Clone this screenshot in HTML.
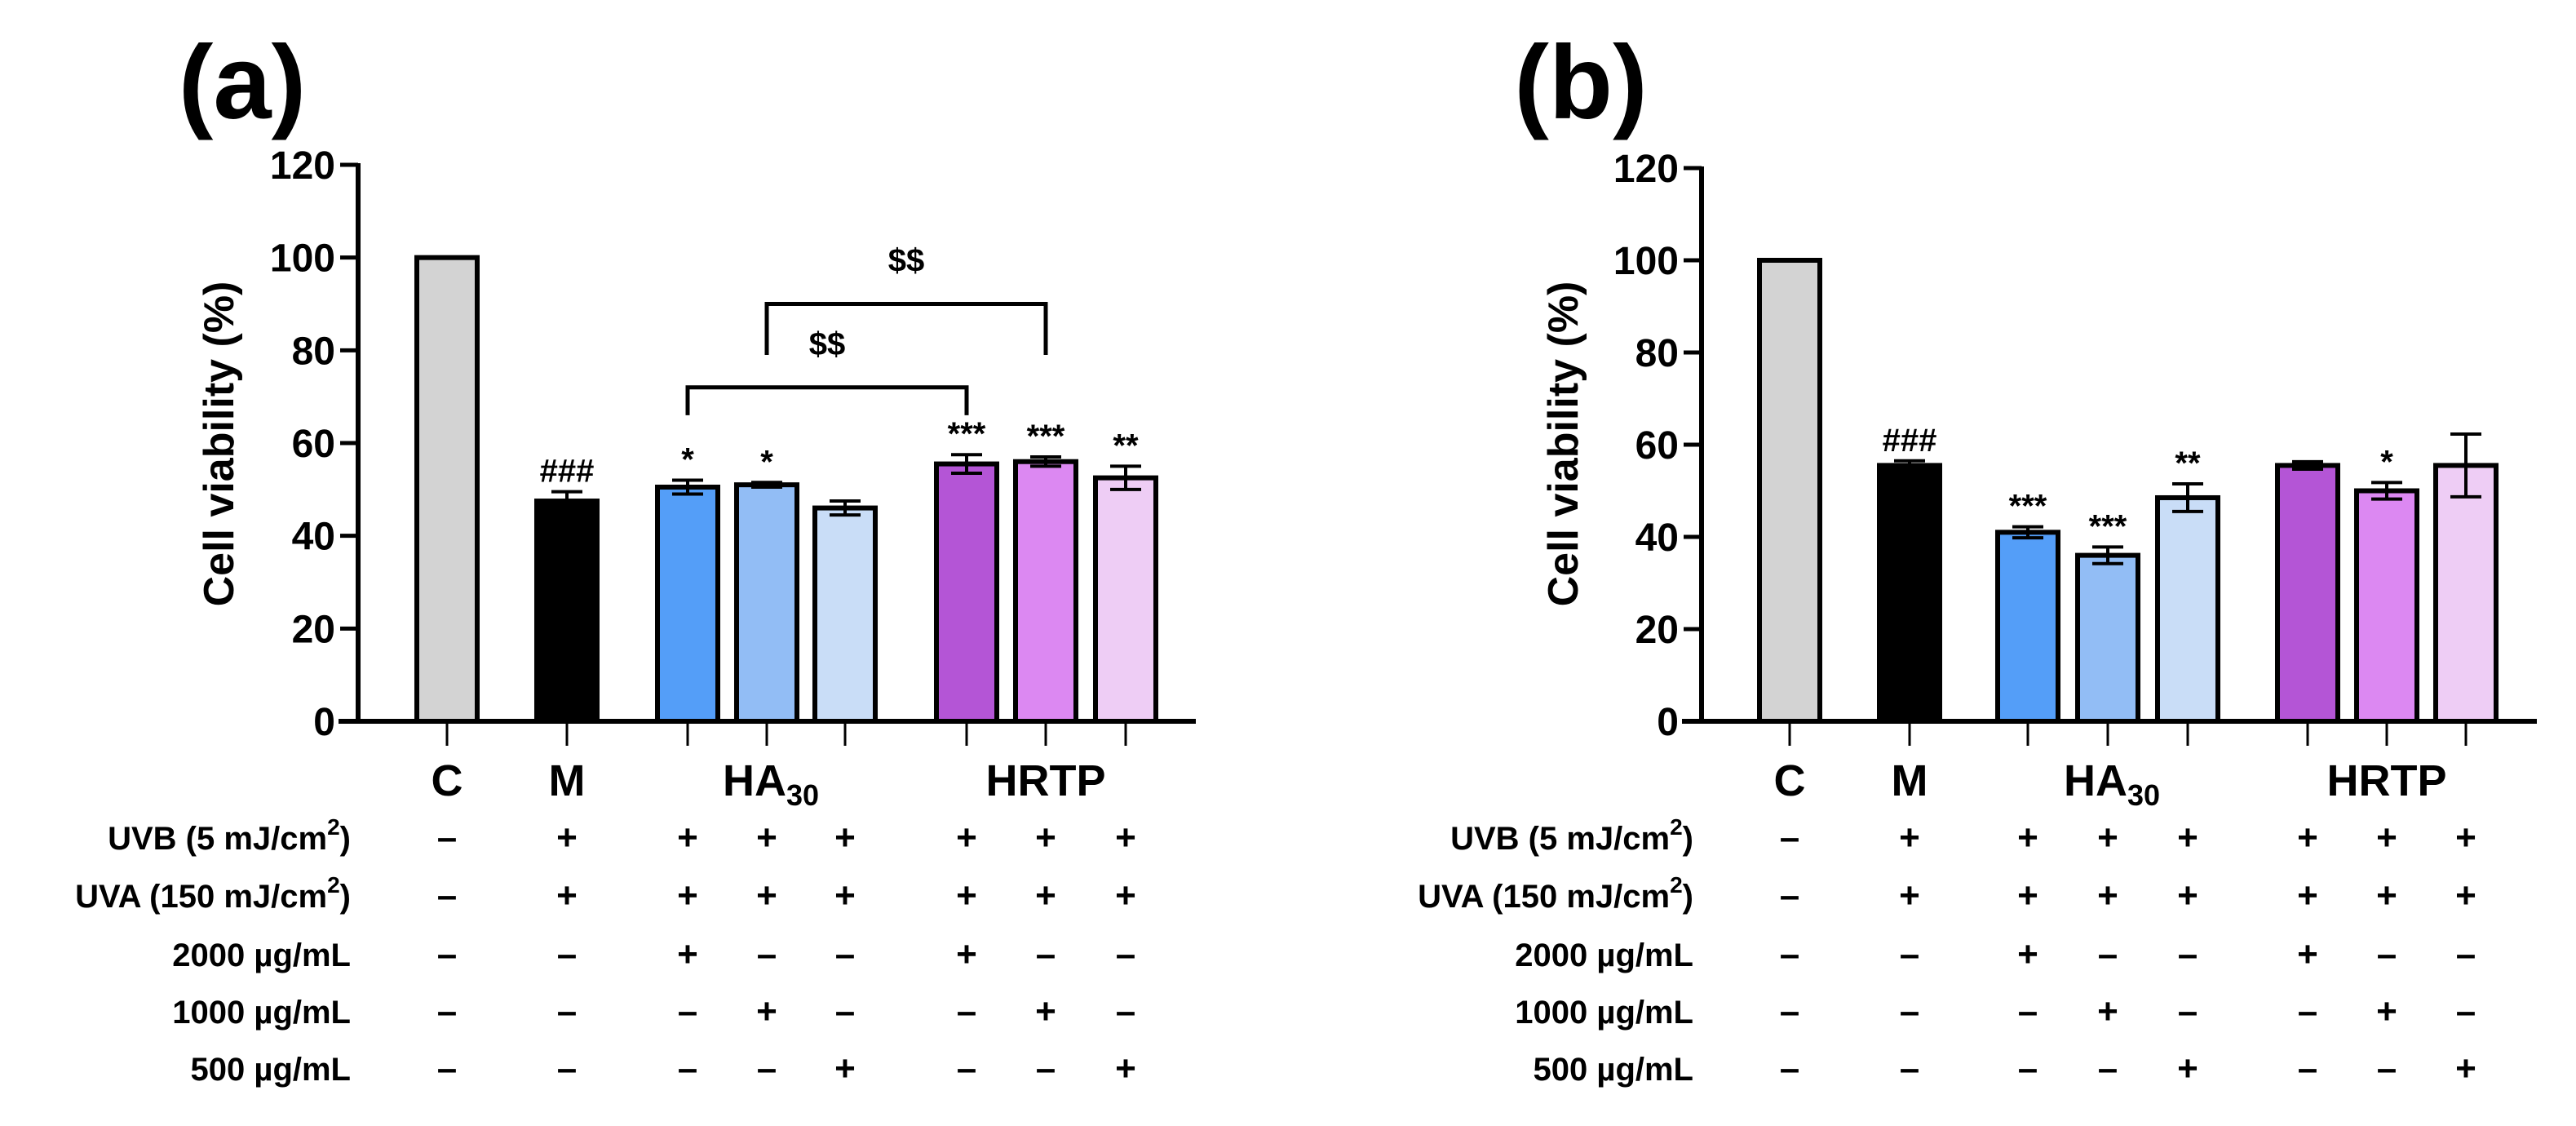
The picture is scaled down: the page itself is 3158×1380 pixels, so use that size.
<!DOCTYPE html>
<html><head><meta charset="utf-8"><style>
html,body{margin:0;padding:0;background:#fff;}
svg{display:block;font-family:"Liberation Sans",Arial,sans-serif;font-weight:bold;}
</style></head><body>
<svg id="chart" width="3158" height="1380" viewBox="0 0 3158 1380" xmlns="http://www.w3.org/2000/svg"></svg>
<script>
const categories = ["C","M","HA2000","HA1000","HA500","HRTP2000","HRTP1000","HRTP500"];
const colors = ["#d3d3d3","#000000","#549ef8","#92bdf5","#c9ddf7","#b455d6","#dc88f2","#eecdf5"];
const valuesA = [100,47.5,50.5,51,46,55.5,56,52.5];
const errorsA = [0,2,1.5,0.5,1.5,2,1,2.5];
const marksA = ["","###","*","*","","***","***","**"];
const valuesB = [100,55.5,41,36,48.5,55.5,50,55.5];
const errorsB = [0,1,1.2,1.8,3,0.8,1.8,6.8];
const marksB = ["","###","***","***","**","","*",""];
const yTicks = [0,20,40,60,80,100,120];
const rowLabels = ["UVB (5 mJ/cm²)","UVA (150 mJ/cm²)","2000 µg/mL","1000 µg/mL","500 µg/mL"];
const rowUVB = ["–","+","+","+","+","+","+","+"];
const rowUVA = ["–","+","+","+","+","+","+","+"];
const row2000 = ["–","–","+","–","–","+","–","–"];
const row1000 = ["–","–","–","+","–","–","+","–"];
const row500 = ["–","–","–","–","+","–","–","+"];
const bracketsA = [[2,5,72,66],[3,6,90,79]];

const NS="http://www.w3.org/2000/svg";
const svg=document.getElementById('chart');
function mk(tag,attrs,parent,text){const e=document.createElementNS(NS,tag);for(const k in attrs)e.setAttribute(k,attrs[k]);if(text!==undefined)e.textContent=text;(parent||svg).appendChild(e);return e;}

function panel(cfg){
  const g=mk('g',{});
  
  
  const y0=884,y120=cfg.y120;
  const ys=v=>y0-(v/120)*(y0-y120);
  const xs=i=>cfg.centers[i];
  const pl=mk('text',{x:cfg.labelX,y:145,'font-size':128,'text-anchor':'middle'},g,cfg.letter);
  
  
  cfg.values.forEach((v,i)=>{
    const r=mk('rect',{x:xs(i)-37,y:ys(v),width:74,height:y0-ys(v),fill:colors[i],stroke:'#000','stroke-width':6},g);
    
    
    const e=cfg.errors[i];
    if(e>0){
      const eg=mk('g',{stroke:'#000','stroke-width':4},g);
      
      
      mk('line',{x1:xs(i),x2:xs(i),y1:ys(v+e),y2:ys(v-e)},eg);
      mk('line',{x1:xs(i)-19,x2:xs(i)+19,y1:ys(v+e),y2:ys(v+e)},eg);
      mk('line',{x1:xs(i)-19,x2:xs(i)+19,y1:ys(v-e),y2:ys(v-e)},eg);
    }
    if(cfg.marks[i]){
      const t=mk('text',{x:xs(i),y:ys(v+e)-12,'font-size':40,'text-anchor':'middle'},g,cfg.marks[i]);
      
      
    }
    const tk=mk('line',{x1:xs(i),x2:xs(i),y1:y0,y2:914,stroke:'#000','stroke-width':3},g);
    
    
  });
  const ya=mk('line',{x1:cfg.axisX,x2:cfg.axisX,y1:y120-2,y2:y0+3,stroke:'#000','stroke-width':6},g);
  
  
  const xa=mk('line',{x1:cfg.axisX-24,x2:cfg.axisEnd,y1:y0,y2:y0,stroke:'#000','stroke-width':6},g);
  
  
  yTicks.forEach(t=>{
    mk('line',{x1:cfg.axisX-22,x2:cfg.axisX,y1:ys(t),y2:ys(t),stroke:'#000','stroke-width':5},g);
    const tl=mk('text',{x:cfg.axisX-28,y:ys(t)+17,'font-size':48,'text-anchor':'end'},g,t);
    
    
  });
  const yt=mk('text',{x:cfg.titleX,y:544,'font-size':52,'text-anchor':'middle',transform:`rotate(-90 ${cfg.titleX} 544)`,dy:18},g,'Cell viability (%)');
  
  
  [["C",xs(0)],["M",xs(1)],["HRTP",xs(6)]].forEach(([s,x])=>{
    const c=mk('text',{x:x,y:975,'font-size':54,'text-anchor':'middle'},g,s);
    
    
  });
  const ha=mk('text',{x:xs(3)+5,y:975,'font-size':54,'text-anchor':'middle'},g);
  
  
  ha.appendChild(document.createTextNode('HA'));
  mk('tspan',{'font-size':36,dy:12},ha,'30');
  const rows=[rowUVB,rowUVA,row2000,row1000,row500];
  const rowY=[1027,1098,1170,1240,1310];
  rows.forEach((row,r)=>{
    const lab=mk('text',{x:cfg.labelRight,y:rowY[r]+14,'font-size':40,'text-anchor':'end'},g);
    
    
    if(r<2){const base=rowLabels[r].replace('²)','');lab.appendChild(document.createTextNode(base));mk('tspan',{'font-size':28,dy:-18},lab,'2');mk('tspan',{dy:18},lab,')');}
    else lab.textContent=rowLabels[r];
    row.forEach((s,i)=>{
      const t=mk('text',{x:xs(i),y:rowY[r]+14,'font-size':44,'text-anchor':'middle'},g,s);
      
      
    });
  });
  (cfg.brackets||[]).forEach(b=>{
    const bg=mk('g',{},g);
    
    
    const x1=xs(b[0]),x2=xs(b[1]);
    mk('polyline',{points:`${x1},${ys(b[3])} ${x1},${ys(b[2])} ${x2},${ys(b[2])} ${x2},${ys(b[3])}`,fill:'none',stroke:'#000','stroke-width':5},bg);
    mk('text',{x:(x1+x2)/2,y:ys(b[2])-40,'font-size':40,'text-anchor':'middle'},bg,'$$');
  });
}
panel({name:'panel-a',letter:'(a)',labelX:297,axisX:439,axisEnd:1466,y120:202,titleX:268,labelRight:430,
  centers:[548,695,843,940,1036,1185,1282,1380],values:valuesA,errors:errorsA,marks:marksA,brackets:bracketsA});
panel({name:'panel-b',letter:'(b)',labelX:1938,axisX:2086,axisEnd:3110,y120:206,titleX:1916,labelRight:2076,
  centers:[2194,2341,2486,2584,2682,2829,2926,3023],values:valuesB,errors:errorsB,marks:marksB,brackets:[]});
</script>
</body></html>
